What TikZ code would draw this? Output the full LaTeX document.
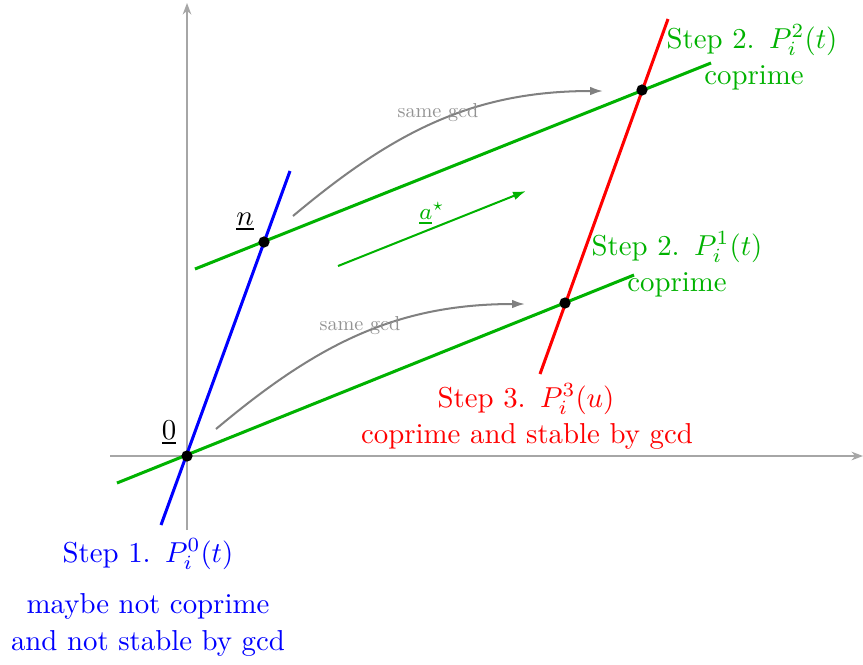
\documentclass[tikz,border=0pt]{standalone}
\usepackage{graphicx}
\usetikzlibrary{arrows.meta}
\definecolor{mygreen}{RGB}{0,178,0}
\begin{document}
\begin{tikzpicture}[x=0.347pt,y=-0.347pt,
  axisline/.style={draw=gray!70, line width=0.55pt, -{Stealth[length=4pt,width=3pt]}},
  mainline/.style={line width=1.05pt},
  dotnode/.style={circle, fill=black, inner sep=0pt, minimum size=3.9pt},
  gcdarrow/.style={draw=gray, line width=0.7pt, -{Latex[length=4.5pt,width=3pt]}},
  lbl/.style={anchor=base, inner sep=0pt},
  smalllbl/.style={anchor=base, inner sep=0pt, text=gray!85}]
\useasboundingbox (0,0) rectangle (863,664);
% axes
\coordinate (xs) at (110,456);
\coordinate (xe) at (863,456);
\coordinate (ys) at (187,530);
\coordinate (ye) at (187,3);
\draw[axisline] (xs) -- (xe);
\draw[axisline] (ys) -- (ye);
% line endpoints
\coordinate (b1) at (161,525);
\coordinate (b2) at (290,171);
\coordinate (g1) at (117,483);
\coordinate (g2) at (634,275);
\coordinate (h1) at (195,269);
\coordinate (h2) at (711,63);
\coordinate (r1) at (540,374);
\coordinate (r2) at (668,19);
\draw[mainline, mygreen] (g1) -- (g2);
\draw[mainline, mygreen] (h1) -- (h2);
\draw[mainline, blue] (b1) -- (b2);
\draw[mainline, red] (r1) -- (r2);
% dots
\node[dotnode] (O) at (187,456) {};
\node[dotnode] (N) at (264,242) {};
\node[dotnode] (A1) at (565,303) {};
\node[dotnode] (A2) at (642,90) {};
% same gcd arrows
\coordinate (c1s) at (216,429);
\coordinate (c1e) at (525,304);
\coordinate (c2s) at (293,216);
\coordinate (c2e) at (603,91);
\draw[gcdarrow] (c1s) to[out=40,in=180] (c1e);
\draw[gcdarrow] (c2s) to[out=40,in=180] (c2e);
\node[smalllbl] (s1) at (360,330) {\scalebox{0.7}{same gcd}};
\node[smalllbl] (s2) at (438,117) {\scalebox{0.7}{same gcd}};
% a* arrow
\coordinate (as) at (338,266);
\coordinate (ae) at (526,191);
\draw[mygreen, line width=0.7pt, -{Latex[length=4.5pt,width=3pt]}] (as) -- (ae);
\node[lbl, text=mygreen, font=\footnotesize] (astar) at (432,219) {$\underline{a}^\star$};
% point labels
\node[lbl] (zero) at (169,439) {$\underline{0}$};
\node[lbl] (nn) at (245,225) {$\underline{n}$};
% step labels
\node[lbl, text=mygreen] (st2b) at (752,48) {Step 2.\ \,$P_i^2(t)$};
\node[lbl, text=mygreen] (cp2b) at (754,84) {coprime};
\node[lbl, text=mygreen] (st2a) at (677,255) {Step 2.\ \,$P_i^1(t)$};
\node[lbl, text=mygreen] (cp2a) at (677,291) {coprime};
\node[lbl, text=red] (st3) at (526,407) {Step 3.\ \,$P_i^3(u)$};
\node[lbl, text=red] (cp3) at (527,443) {coprime and stable by gcd};
\node[lbl, text=blue] (st1) at (148,562) {Step 1.\ \,$P_i^0(t)$};
\node[lbl, text=blue] (m1) at (148,613) {maybe not coprime};
\node[lbl, text=blue] (m2) at (148,650) {and not stable by gcd};
\end{tikzpicture}
\end{document}
